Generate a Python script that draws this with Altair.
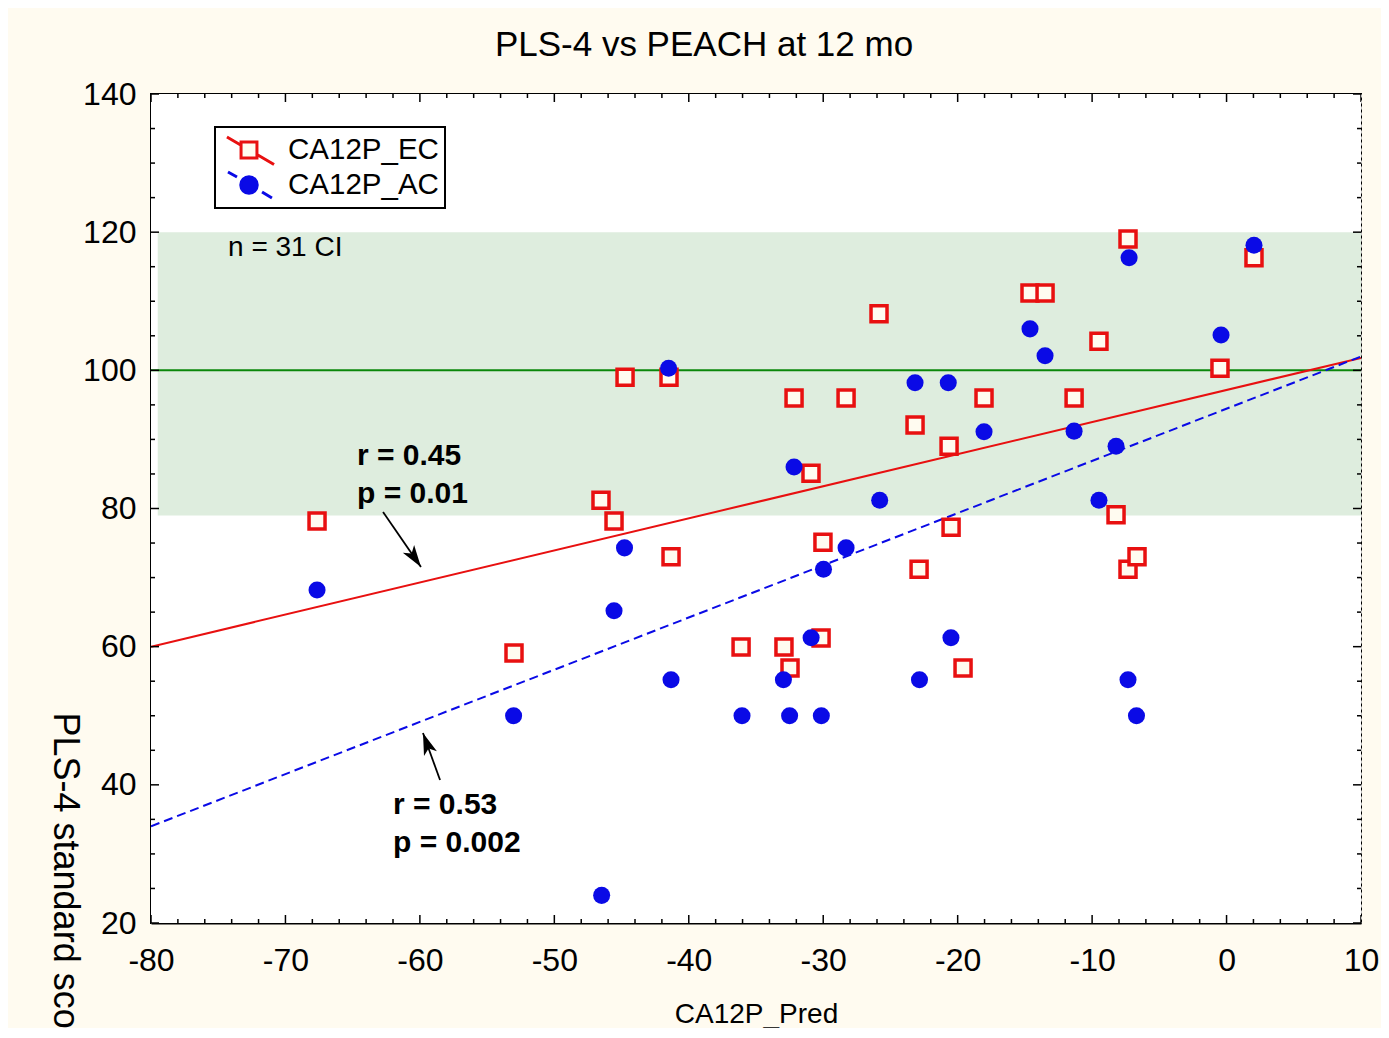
import altair as alt
import pandas as pd

FONT = "Liberation Sans"

# ---- data ----
ec_x = [-67.65, -53.0, -46.53, -45.56, -44.74, -41.47, -41.32, -36.11, -32.92, -32.47, -32.17,
        -30.91, -30.02, -30.16, -28.3, -25.85, -23.17, -22.87, -20.64, -20.49, -19.6, -18.04,
        -14.62, -13.5, -11.34, -9.49, -8.22, -7.33, -7.33, -6.66, -0.49, 2.04]
ec_y = [78.2, 59.1, 81.2, 78.2, 99.0, 99.0, 73.0, 59.95, 59.95, 56.9, 96.0,
        85.1, 75.1, 61.25, 96.0, 108.2, 92.1, 71.2, 89.0, 77.3, 56.9, 96.0,
        111.2, 111.2, 96.0, 104.2, 79.1, 119.0, 71.2, 73.0, 100.3, 116.3]

ac_x = [-67.65, -53.03, -46.48, -45.56, -44.78, -41.5, -41.32, -36.04, -32.96, -32.5, -32.17,
        -30.9, -30.14, -29.98, -28.3, -25.8, -23.17, -22.84, -20.7, -20.5, -18.04, -14.62,
        -13.5, -11.34, -9.49, -8.22, -7.25, -7.33, -6.7, -0.41, 2.04]
ac_y = [68.2, 50.0, 24.0, 65.2, 74.3, 100.3, 55.2, 50.0, 55.2, 50.0, 86.0,
        61.3, 50.0, 71.2, 74.3, 81.2, 98.2, 55.2, 98.2, 61.3, 91.1, 106.0,
        102.1, 91.2, 81.2, 89.0, 116.3, 55.2, 50.0, 105.1, 118.1]

series_names = ["CA12P_EC", "CA12P_AC"]

fit_x = [-80, 10]
ec_fit_y = [60.0, 101.8]
ac_fit_y = [34.0, 102.0]

ci_low, ci_high = 79, 120
ref_level = [100]

x_major = list(range(-80, 11, 10))
x_minor = [v for v in range(-80, 11, 2) if v % 10 != 0]
y_major = list(range(20, 141, 20))
y_minor = [v for v in range(20, 141, 5) if v % 20 != 0]

note_text = ["r = 0.45", "p = 0.01", "r = 0.53", "p = 0.002"]
note_x = [-64.68, -64.68, -62.0, -62.0]
note_y = [86.3, 80.8, 35.8, 30.3]

arrow_x = [-62.74, -58.50]
arrow_y = [79.49, 40.69]
arrow_x2 = [-59.92, -59.77]
arrow_y2 = [71.53, 47.50]
arrow_ang = [145.4, 340.1]

# ---- scales / axes ----
xs = alt.Scale(domain=[-80, 10], nice=False, zero=False)
ys = alt.Scale(domain=[20, 140], nice=False, zero=False)

xaxis = alt.Axis(values=x_major, grid=True, gridColor="#c4c4c4", gridDash=[3, 3], gridWidth=1,
                 ticks=False, tickSize=0, domain=True, domainColor="black", domainWidth=2,
                 labelFontSize=32, labelFont=FONT, labelColor="black", labelPadding=22,
                 labelFlush=False, labelOverlap=False, labelExpr="'' + datum.value",
                 title="CA12P_Pred", titleFontSize=28, titleFont=FONT, titleFontWeight="normal",
                 titleColor="black", titleX=605, titleY=99, titleAlign="center",
                 titleBaseline="alphabetic")
yaxis = alt.Axis(values=y_major, grid=True, gridColor="#c4c4c4", gridDash=[3, 3], gridWidth=1,
                 ticks=False, tickSize=0, domain=True, domainColor="black", domainWidth=2,
                 labelFontSize=32, labelFont=FONT, labelColor="black", labelPadding=15,
                 labelFlush=False, labelOverlap=False, labelExpr="'' + datum.value",
                 title="PLS-4 standard score", titleFontSize=36, titleFont=FONT,
                 titleFontWeight="normal", titleColor="black", titleAngle=90,
                 titleX=-98, titleY=618, titleAlign="left", titleBaseline="alphabetic")


def X(f):
    return alt.X(f, type="quantitative", scale=xs, axis=xaxis)


def Y(f):
    return alt.Y(f, type="quantitative", scale=ys, axis=yaxis)


RED = "#E81010"
BLUE = "#0A0AE6"
CREAM = "#FFFBF0"

plot_bg = alt.Chart(pd.DataFrame({"x": [-80], "x2": [10], "y": [20], "y2": [140]})).mark_rect(
    color="white", opacity=1).encode(x=X("x"), x2="x2", y=Y("y"), y2="y2")

band = alt.Chart(pd.DataFrame({"x": [-79.5], "x2": [10], "y": [ci_low], "y2": [ci_high]})).mark_rect(
    color="#c2dfc2", opacity=0.55).encode(x=X("x"), x2="x2", y=Y("y"), y2="y2")

ref = alt.Chart(pd.DataFrame({"y": ref_level})).mark_rule(color="#0a870a", strokeWidth=2).encode(y=Y("y"))

ec_fit = alt.Chart(pd.DataFrame({"x": fit_x, "y": ec_fit_y})).mark_line(
    color=RED, strokeWidth=2, clip=True).encode(x=X("x"), y=Y("y"))
ac_fit = alt.Chart(pd.DataFrame({"x": fit_x, "y": ac_fit_y})).mark_line(
    color=BLUE, strokeWidth=2, strokeDash=[9, 5], clip=True).encode(x=X("x"), y=Y("y"))

ec_pts = alt.Chart(pd.DataFrame({"x": ec_x, "y": ec_y})).mark_point(
    shape="square", size=256, filled=True, fill=CREAM, stroke=RED, strokeWidth=3.5, opacity=1
).encode(x=X("x"), y=Y("y"))
ac_pts = alt.Chart(pd.DataFrame({"x": ac_x, "y": ac_y})).mark_circle(
    size=290, color=BLUE, opacity=1).encode(x=X("x"), y=Y("y"))

# legend-only layer (no rows drawn)
EC_SYM = "M0.27,-0.53H1.33V0.53H0.27Z M-0.67,-0.87L0.27,-0.32 M1.33,0.30L2.47,0.97"
AC_SYM = ("M0.25,0A0.55,0.55 0 1,0 1.35,0A0.55,0.55 0 1,0 0.25,0Z "
          "M-0.6,-0.87L0.0,-0.53 M1.67,0.47L2.33,0.87")
leg = alt.Chart(pd.DataFrame({"series": series_names})).transform_filter("false").mark_point(
    filled=True, opacity=1, strokeWidth=3).encode(
    stroke=alt.Stroke("series:N", scale=alt.Scale(domain=series_names, range=[RED, BLUE]),
                      legend=alt.Legend(title=None)),
    fill=alt.Fill("series:N", scale=alt.Scale(domain=series_names, range=[CREAM, BLUE]),
                  legend=alt.Legend(title=None)),
    shape=alt.Shape("series:N", scale=alt.Scale(domain=series_names, range=[EC_SYM, AC_SYM]),
                    legend=alt.Legend(title=None)),
)

# inward ticks on all four sides
vt_rows = ([{"x": v, "y": e, "len": 16} for v in x_major for e in (20, 140)] +
           [{"x": v, "y": e, "len": 8} for v in x_minor for e in (20, 140)])
ht_rows = ([{"x": e, "y": v, "len": 16} for v in y_major for e in (-80, 10)] +
           [{"x": e, "y": v, "len": 8} for v in y_minor for e in (-80, 10)])
vticks = alt.Chart(pd.DataFrame(vt_rows)).mark_tick(
    orient="vertical", thickness=1.5, color="black", clip=True, opacity=1).encode(
    x=X("x"), y=Y("y"), size=alt.Size("len:Q", scale=None))
hticks = alt.Chart(pd.DataFrame(ht_rows)).mark_tick(
    orient="horizontal", thickness=1.5, color="black", clip=True, opacity=1).encode(
    x=X("x"), y=Y("y"), size=alt.Size("len:Q", scale=None))

notes = alt.Chart(pd.DataFrame({"x": note_x, "y": note_y, "t": note_text})).mark_text(
    font=FONT, fontSize=30, fontWeight="bold", color="black", align="left",
    baseline="alphabetic").encode(x=X("x"), y=Y("y"), text="t:N")
ci_note = alt.Chart(pd.DataFrame({"x": [-74.27], "y": [116.55], "t": ["n = 31 CI"]})).mark_text(
    font=FONT, fontSize=28, color="black", align="left", baseline="alphabetic").encode(
    x=X("x"), y=Y("y"), text="t:N")

arrows_df = pd.DataFrame({"x": arrow_x, "y": arrow_y, "x2": arrow_x2, "y2": arrow_y2, "ang": arrow_ang})
arrow_lines = alt.Chart(arrows_df).mark_rule(color="black", strokeWidth=1.8).encode(
    x=X("x"), y=Y("y"), x2="x2", y2="y2")
ARROW = "M0,0L0.5,1.6L0,1.2L-0.5,1.6Z"
arrow_heads = alt.Chart(arrows_df).mark_point(
    shape=ARROW, size=756, filled=True, color="black", opacity=1).encode(
    x=X("x2"), y=Y("y2"), angle=alt.Angle("ang:Q", scale=None))

chart = alt.layer(
    plot_bg, band, ref, ec_fit, ac_fit, ec_pts, ac_pts, leg, vticks, hticks,
    notes, ci_note, arrow_lines, arrow_heads
).properties(
    width=1210, height=829,
    title=alt.TitleParams("PLS-4 vs PEACH at 12 mo", fontSize=35, font=FONT, fontWeight="normal",
                          color="black", anchor="middle", dx=-52, offset=15),
    autosize=alt.AutoSizeParams(type="none"),
    padding={"left": 143, "top": 86, "right": 20, "bottom": 105},
).configure(
    background=CREAM
).configure_view(
    stroke="black", strokeWidth=2
).configure_legend(
    orient="none", legendX=64, legendY=33, padding=5.5, rowPadding=0, clipHeight=35,
    strokeColor="black", strokeWidth=2, fillColor="white",
    labelFont=FONT, labelFontSize=29.5, labelColor="black", labelOffset=34.5, labelLimit=400,
    symbolSize=900, symbolStrokeWidth=3, symbolOpacity=1
)

chart.save("out.html", embed_options={"renderer": "svg", "actions": False})
